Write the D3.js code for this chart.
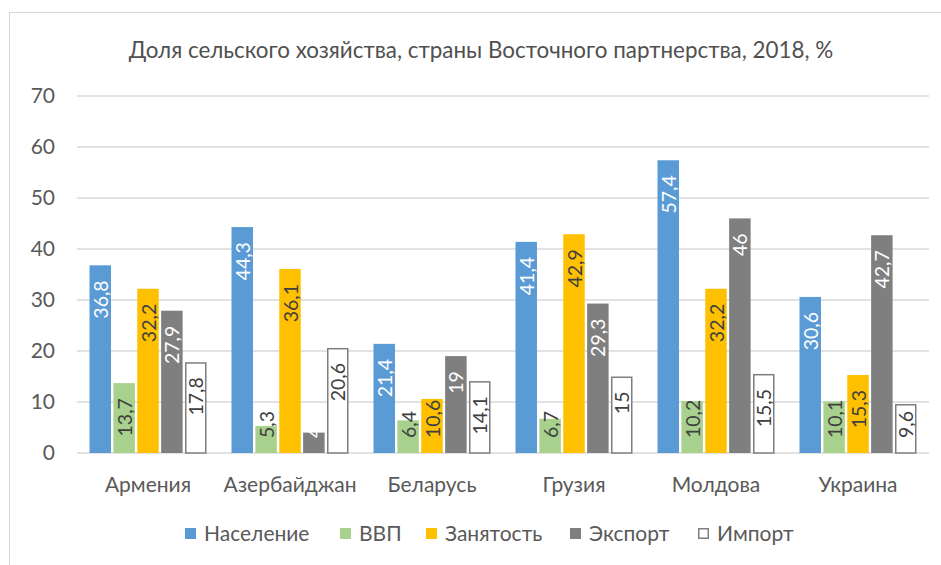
<!DOCTYPE html>
<html><head><meta charset="utf-8">
<script src="https://cdn.jsdelivr.net/npm/d3@7"></script>
<style>body{margin:0;background:#fff}svg{display:block}text{font-family:Lato,"Open Sans",sans-serif}</style>
</head><body>
<svg id="c" width="941" height="565"></svg>
<script>
const titleText = "Доля сельского хозяйства, страны Восточного партнерства, 2018, %";
const categories = ["Армения","Азербайджан","Беларусь","Грузия","Молдова","Украина"];
const seriesNames = ["Население","ВВП","Занятость","Экспорт","Импорт"];
const naselenie = [36.8, 44.3, 21.4, 41.4, 57.4, 30.6];
const vvp       = [13.7, 5.3, 6.4, 6.7, 10.2, 10.1];
const zanyatost = [32.2, 36.1, 10.6, 42.9, 32.2, 15.3];
const eksport   = [27.9, 4, 19, 29.3, 46, 42.7];
const import_   = [17.8, 20.6, 14.1, 15, 15.5, 9.6];
const yTicks = [0,10,20,30,40,50,60,70];

const seriesValues = [naselenie, vvp, zanyatost, eksport, import_];
const fills   = ["#5b9bd5","#a9d18e","#ffc000","#7f7f7f","#ffffff"];
const strokes = ["none","none","none","none","#7f7f7f"];
const labelColors = ["#ffffff","#404040","#404040","#ffffff","#404040"];

const svg = d3.select("#c");
// outer frame
svg.append("rect").attr("x",9.5).attr("y",12.5).attr("width",960).attr("height",600)
  .attr("fill","none").attr("stroke","#d9d9d9").attr("stroke-width",1);

const pLeft = 77, pRight = 929, pTop = 96, pBottom = 453;
const y = d3.scaleLinear().domain([0,70]).range([pBottom, pTop]);
const x0 = d3.scaleBand().domain(categories).range([pLeft, pRight]).padding(0);
const x1 = d3.scaleBand().domain(seriesNames).range([12.5, x0.bandwidth()-12.5]).paddingInner(0.1);

// title
svg.append("text").attr("x", 481).attr("y", 58).attr("text-anchor","middle")
  .attr("fill","#505050").attr("font-size", 22.4).text(titleText);

// gridlines
svg.append("g").selectAll("line").data(yTicks).join("line")
  .attr("x1", pLeft).attr("x2", pRight)
  .attr("y1", d=>y(d)).attr("y2", d=>y(d))
  .attr("stroke","#d9d9d9").attr("stroke-width",1.5);

// y axis labels
const yAxis = d3.axisLeft(y).tickValues(yTicks).tickSize(0).tickPadding(0).tickFormat(d3.format("d"));
const yg = svg.append("g").attr("transform", `translate(55,0)`).call(yAxis);
yg.select(".domain").remove();
yg.selectAll("text").attr("fill","#595959").attr("font-size",21).attr("font-family","Lato");

// x axis labels
const xAxis = d3.axisBottom(x0).tickSize(0).tickPadding(0);
const xg = svg.append("g").attr("transform", `translate(0,${pBottom})`).call(xAxis);
xg.select(".domain").remove();
xg.selectAll("text").attr("fill","#595959").attr("font-size",21).attr("font-family","Lato")
  .attr("dy",null).attr("y",39);

// bars
const fmt = v => String(v).replace(".", ",");
categories.forEach((cat, ci) => {
  const g = svg.append("g").attr("transform", `translate(${x0(cat)},0)`);
  seriesNames.forEach((s, si) => {
    const v = seriesValues[si][ci];
    const bx = x1(s), bw = x1.bandwidth();
    const sw = strokes[si]!=="none";
    g.append("rect").attr("x", bx + (sw?0.75:0)).attr("y", y(v) + (sw?0.75:0))
      .attr("width", bw - (sw?1.5:0)).attr("height", y(0)-y(v) - (sw?0.75:0))
      .attr("fill", fills[si]).attr("stroke", strokes[si]).attr("stroke-width",1.5);
  });
});
// labels (drawn after bars)
categories.forEach((cat, ci) => {
  const g = svg.append("g").attr("transform", `translate(${x0(cat)},0)`);
  seriesNames.forEach((s, si) => {
    const v = seriesValues[si][ci];
    const cx = x1(s) + x1.bandwidth()/2;
    const t = g.append("text").attr("font-size",19.5).attr("fill",labelColors[si])
      .attr("text-anchor","end").attr("dominant-baseline","central").text(fmt(v));
    const len = t.node().getComputedTextLength();
    let endY = y(v) + 15;
    if (endY + len > y(0) - 15) endY = y(0) - 15 - len;
    t.attr("transform", `translate(${cx},${endY}) rotate(-90)`);
  });
});

// legend
const legendX = [185, 340, 426, 570, 698];
const lg = svg.append("g");
seriesNames.forEach((s, si) => {
  const sw = strokes[si]!=="none";
  lg.append("rect").attr("x", legendX[si] + (sw?0.75:0)).attr("y", 528 + (sw?0.75:0))
    .attr("width", 11 - (sw?1.5:0)).attr("height", 11 - (sw?1.5:0))
    .attr("fill", fills[si]).attr("stroke", strokes[si]).attr("stroke-width",1.5);
  lg.append("text").attr("x", legendX[si] + 19).attr("y", 541).attr("fill","#595959")
    .attr("font-size",21).text(s);
});
</script>
</body></html>
